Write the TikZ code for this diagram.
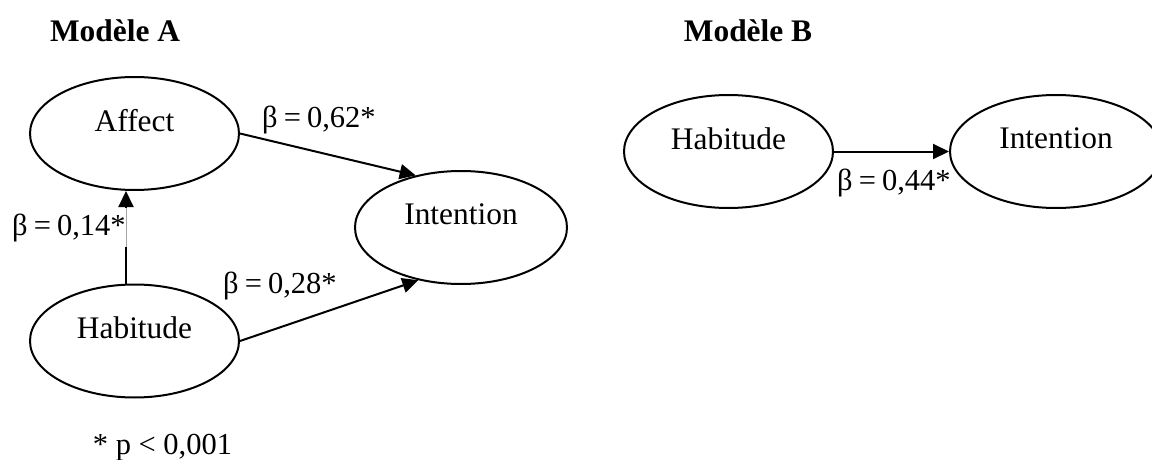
\documentclass[tikz,border=0pt]{standalone}
\usepackage{fontspec}
\setmainfont{Liberation Serif}
\usetikzlibrary{shapes.geometric,arrows.meta,calc}
\newcommand\liftt[1]{\raisebox{13pt}[\height][\depth]{#1}}
\newcommand\beq[1]{β\hspace{0.2em}=\hspace{0.2em}#1}
\begin{document}
\begin{tikzpicture}[x=1pt,y=-1pt,
  ell/.style={ellipse,draw,line width=2pt,inner sep=0pt,minimum width=209pt,minimum height=113pt,font=\fontsize{31.4}{36}\selectfont},
  lbl/.style={anchor=base west,inner sep=0pt,font=\fontsize{30.5}{36}\selectfont},
  ttl/.style={anchor=base,inner sep=0pt,font=\bfseries\fontsize{31.4}{36}\selectfont},
  arr/.style={line width=2pt,-{Triangle[length=16pt,width=15pt]}}]
\useasboundingbox (0,0) rectangle (1152,460);
% titles
\node[ttl] (tA) at (115,42) {Modèle A};
\node[ttl] (tB) at (748,42) {Modèle B};
% model A
\node[ell] (aA) at (134.5,133.5) {\liftt{Affect}};
\node[ell] (hA) at (134.5,341) {\liftt{Habitude}};
\node[ell,minimum width=212pt] (iA) at (461,227.5) {\liftt{Intention}};
\draw[arr] (aA.east) -- (iA.131);
\draw[arr] (hA.east) -- (iA.231);
\draw[arr] ([xshift=-8.5pt]hA.north) -- ([xshift=-8.5pt]aA.south);
\draw[white,line width=2.4pt] ([xshift=-8.5pt,yshift=-17pt]aA.south) -- ([xshift=-8.5pt,yshift=37pt]hA.north);
\draw[black!35,line width=0.6pt] ([xshift=-8.5pt,yshift=-17pt]aA.south) -- ([xshift=-8.5pt,yshift=37pt]hA.north);
\node[lbl] (l62) at (262,128) {\beq{0,62*}};
\node[lbl] (l14) at (12,235) {\beq{0,14*}};
\node[lbl] (l28) at (223,293) {\beq{0,28*}};
\node[lbl,anchor=base] (pv) at (162.5,454) {* p < 0,001};
% model B
\node[ell] (hB) at (728.5,151.5) {\liftt{Habitude}};
\node[ell,minimum width=212pt] (iB) at (1056,151.5) {\liftt{Intention}};
\draw[arr] (hB.east) -- (iB.west);
\node[lbl] (l44) at (837,190) {\beq{0,44*}};
\end{tikzpicture}
\end{document}
